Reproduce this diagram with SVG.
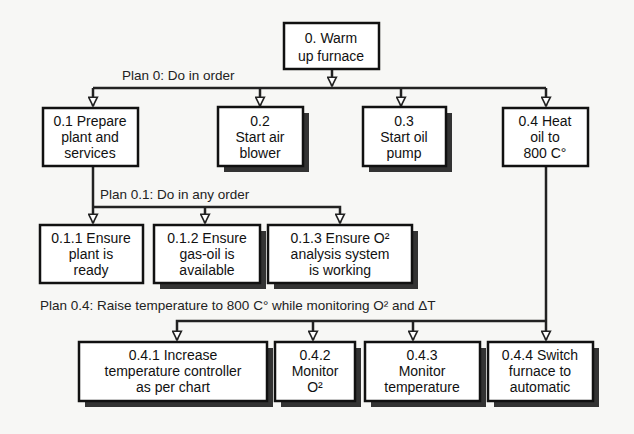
<svg xmlns="http://www.w3.org/2000/svg" width="634" height="434" viewBox="0 0 634 434">
<style>
.bg{fill:#f7f7f5}
.box{fill:#fff;stroke:#111;stroke-width:2.5}
.sh{fill:#333}
.t{font-family:"Liberation Sans",Arial,sans-serif;font-size:14px;fill:#111;text-anchor:middle}
.lbl{font-family:"Liberation Sans",Arial,sans-serif;font-size:13.5px;fill:#222}
.ln{fill:none;stroke:#222;stroke-width:2.5}
</style>
<defs>
<marker id="ah" viewBox="0 0 10 10" refX="9" refY="5" markerWidth="4.4" markerHeight="4.4" orient="auto" markerUnits="strokeWidth">
<path d="M1,1 L9,5 L1,9 Z" fill="#fff" stroke="#222" stroke-width="1.5"/>
</marker>
</defs>
<rect class="bg" x="0" y="0" width="634" height="434"/>
<g id="connectors">
<path class="ln" d="M332,69 V86" marker-end="url(#ah)"/>
<path class="ln" d="M93,88 H546"/>
<path class="ln" d="M93,88 V106" marker-end="url(#ah)"/>
<path class="ln" d="M260,88 V106" marker-end="url(#ah)"/>
<path class="ln" d="M401,88 V106" marker-end="url(#ah)"/>
<path class="ln" d="M546,88 V106" marker-end="url(#ah)"/>
<path class="ln" d="M93,165 V223" marker-end="url(#ah)"/>
<path class="ln" d="M93,207 H340 V223" marker-end="url(#ah)"/>
<path class="ln" d="M205,207 V223" marker-end="url(#ah)"/>
<path class="ln" d="M546,165 V340" marker-end="url(#ah)"/>
<path class="ln" d="M546,321 H177 V340" marker-end="url(#ah)"/>
<path class="ln" d="M313,321 V340" marker-end="url(#ah)"/>
<path class="ln" d="M413,321 V340" marker-end="url(#ah)"/>
<text class="lbl" x="122" y="80">Plan 0: Do in order</text>
<text class="lbl" x="100" y="199">Plan 0.1: Do in any order</text>
<text class="lbl" x="40" y="310">Plan 0.4: Raise temperature to 800 C° while monitoring O² and ΔT</text>
</g>
<g id="n0">
<rect class="box" x="284" y="23" width="95" height="46"/>
<text class="t" x="331" y="43">0. Warm</text>
<text class="t" x="331" y="61">up furnace</text>
</g>
<g id="n01">
<rect class="box" x="43" y="108" width="95" height="58"/>
<text class="t" x="90" y="126">0.1 Prepare</text>
<text class="t" x="90" y="142">plant and</text>
<text class="t" x="90" y="158">services</text>
</g>
<g id="n02">
<rect class="sh" x="224" y="113" width="85" height="59"/>
<rect class="box" x="218" y="107" width="85" height="59"/>
<text class="t" x="260" y="126">0.2</text>
<text class="t" x="260" y="142">Start air</text>
<text class="t" x="260" y="158">blower</text>
</g>
<g id="n03">
<rect class="sh" x="369" y="113" width="83" height="59"/>
<rect class="box" x="363" y="107" width="83" height="59"/>
<text class="t" x="404" y="126">0.3</text>
<text class="t" x="404" y="142">Start oil</text>
<text class="t" x="404" y="158">pump</text>
</g>
<g id="n04">
<rect class="box" x="503" y="108" width="85" height="58"/>
<text class="t" x="545" y="126">0.4 Heat</text>
<text class="t" x="545" y="142">oil to</text>
<text class="t" x="545" y="158">800 C°</text>
</g>
<g id="n011">
<rect class="box" x="40" y="225" width="103" height="58"/>
<text class="t" x="91" y="243">0.1.1 Ensure</text>
<text class="t" x="91" y="259">plant is</text>
<text class="t" x="91" y="275">ready</text>
</g>
<g id="n012">
<rect class="sh" x="160" y="231" width="106" height="58"/>
<rect class="box" x="154" y="225" width="106" height="58"/>
<text class="t" x="207" y="243">0.1.2 Ensure</text>
<text class="t" x="207" y="259">gas-oil is</text>
<text class="t" x="207" y="275">available</text>
</g>
<g id="n013">
<rect class="sh" x="274" y="231" width="144" height="58"/>
<rect class="box" x="268" y="225" width="144" height="58"/>
<text class="t" x="340" y="243">0.1.3 Ensure O²</text>
<text class="t" x="340" y="259">analysis system</text>
<text class="t" x="340" y="275">is working</text>
</g>
<g id="n041">
<rect class="sh" x="85" y="348" width="188" height="59"/>
<rect class="box" x="79" y="342" width="188" height="59"/>
<text class="t" x="173" y="360">0.4.1 Increase</text>
<text class="t" x="173" y="376">temperature controller</text>
<text class="t" x="173" y="392">as per chart</text>
</g>
<g id="n042">
<rect class="sh" x="281" y="348" width="80" height="59"/>
<rect class="box" x="275" y="342" width="80" height="59"/>
<text class="t" x="315" y="360">0.4.2</text>
<text class="t" x="315" y="376">Monitor</text>
<text class="t" x="315" y="392">O²</text>
</g>
<g id="n043">
<rect class="sh" x="371" y="348" width="115" height="59"/>
<rect class="box" x="365" y="342" width="115" height="59"/>
<text class="t" x="422" y="360">0.4.3</text>
<text class="t" x="422" y="376">Monitor</text>
<text class="t" x="422" y="392">temperature</text>
</g>
<g id="n044">
<rect class="sh" x="494" y="348" width="105" height="59"/>
<rect class="box" x="488" y="342" width="105" height="59"/>
<text class="t" x="540" y="360">0.4.4 Switch</text>
<text class="t" x="540" y="376">furnace to</text>
<text class="t" x="540" y="392">automatic</text>
</g>
</svg>
